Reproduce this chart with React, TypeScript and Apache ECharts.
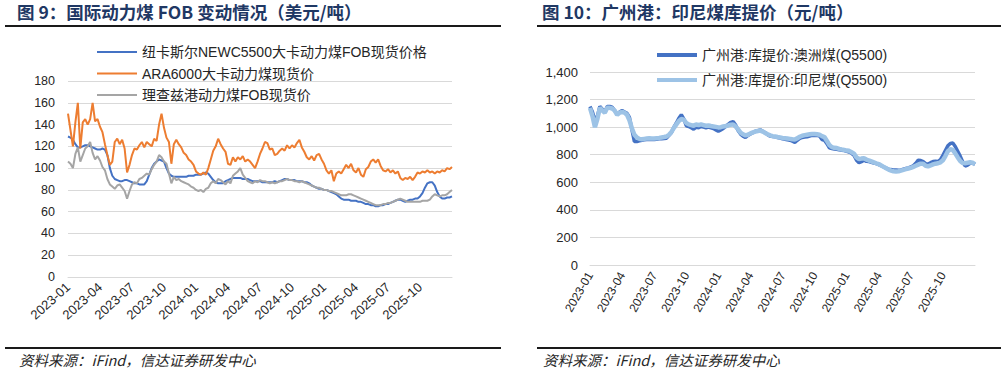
import React, { useEffect, useRef } from "react";
import * as echarts from "echarts";

// weekly observation dates (Fridays), 2023-01-06 … 2026-01-02
const FIRST_DATE = "2023-01-06";
const WEEK_COUNT = 157;
const dates: string[] = (() => {
  const out: string[] = [];
  const d0 = new Date(FIRST_DATE + "T00:00:00Z").getTime();
  for (let i = 0; i < WEEK_COUNT; i++) {
    out.push(new Date(d0 + i * 7 * 86400000).toISOString().slice(0, 10));
  }
  return out;
})();

const quarterMonths = ["01", "04", "07", "10"];
const lastLabelMonth = "2025-10";

// 图9 series (USD/t)
const newcName = "纽卡斯尔NEWC5500大卡动力煤FOB现货价格";
const araName = "ARA6000大卡动力煤现货价";
const rbName = "理查兹港动力煤FOB现货价";

const newc = [
  129, 128, 126, 122, 119, 119, 120, 121, 121, 120,
  119, 118, 117, 117, 118, 117, 112, 100, 93, 90,
  89, 88, 88, 89, 89, 88, 87, 86, 86, 85,
  85, 85, 88, 94, 100, 104, 106, 108, 107, 106,
  100, 95, 93, 92, 92, 92, 92, 92, 92, 93,
  93, 93, 94, 94, 94, 95, 96, 95, 92, 89,
  87, 86, 86, 86, 88, 89, 90, 91, 91, 91,
  91, 90, 90, 90, 89, 88, 88, 88, 88, 87,
  87, 87, 87, 87, 88, 87, 88, 89, 90, 90,
  89, 89, 89, 88, 88, 88, 87, 87, 86, 84,
  83, 82, 81, 81, 80, 80, 79, 78, 77, 76,
  74, 72, 71, 71, 71, 70, 70, 70, 69, 69,
  68, 67, 67, 66, 66, 65, 65, 66, 66, 67,
  67, 68, 69, 70, 71, 71, 70, 69, 70, 71,
  71, 72, 72, 74, 77, 82, 86, 87, 87, 84,
  78, 74, 72, 72, 73, 73, 74,
];

const ara = [
  150, 135, 120, 142, 160, 118, 142, 145, 140, 145,
  160, 143, 145, 138, 133, 122, 112, 103, 106, 124,
  127, 122, 126, 118, 96, 103, 112, 118, 117, 121,
  124, 119, 124, 122, 120, 127, 125, 140, 150, 137,
  128, 124, 104, 122, 126, 122, 119, 114, 112, 108,
  106, 103, 97, 95, 94, 96, 94, 100, 108, 116,
  120, 127, 122, 118, 115, 104, 103, 110, 106, 110,
  108, 111, 106, 108, 106, 103, 100, 106, 113, 118,
  124, 123, 117, 118, 112, 113, 116, 118, 116, 121,
  118, 121, 119, 123, 126, 119, 115, 110, 108, 111,
  107, 112, 113, 108, 104, 98, 95, 98, 88, 95,
  97, 95, 99, 103, 100, 104, 98, 96, 100, 94,
  92, 99, 101, 106, 108, 105, 108, 102, 98, 97,
  99, 96, 98, 95, 97, 91, 89, 91, 90, 92,
  89, 92, 96, 95, 97, 96, 98, 96, 97, 95,
  97, 96, 98, 97, 100, 99, 101,
];

const rb = [
  106, 104, 100, 113, 119, 106, 112, 118, 120, 124,
  114, 108, 111, 107, 101, 98, 90, 85, 83, 81,
  84, 85, 82, 79, 72, 79, 85, 87, 86, 90,
  91, 93, 95, 94, 99, 103, 106, 112, 110, 106,
  104, 95, 86, 92, 89, 90, 88, 87, 86, 85,
  83, 82, 80, 79, 80, 78, 81, 82, 86, 88,
  86, 90, 89, 87, 85, 88, 86, 93, 95, 97,
  100, 94, 91, 88, 87, 86, 88, 87, 89, 88,
  88, 87, 86, 87, 86, 87, 88, 88, 89, 90,
  89, 89, 88, 88, 87, 88, 87, 86, 85, 84,
  83, 82, 82, 81, 80, 80, 79, 79, 78, 77,
  76, 75, 75, 75, 76, 76, 75, 74, 73, 72,
  71, 70, 69, 68, 67, 66, 66, 66, 67, 67,
  68, 68, 69, 70, 71, 72, 71, 70, 69, 69,
  69, 69, 69, 69, 70, 70, 70, 71, 74, 76,
  75, 74, 75, 75, 76, 78, 80,
];

// 图10 series (CNY/t)
const ausName = "广州港:库提价:澳洲煤(Q5500)";
const indoName = "广州港:库提价:印尼煤(Q5500)";

const aus = [
  1150, 1110, 1050, 1080, 1150, 1130, 1110, 1150, 1150, 1145,
  1120, 1095, 1110, 1120, 1110, 1100, 1070, 980, 895, 895,
  900, 905, 908, 910, 912, 910, 910, 912, 915, 915,
  918, 920, 940, 960, 1000, 1030, 1065, 1090, 1060, 1010,
  1005, 995, 985, 1000, 995, 1005, 1000, 995, 1000, 995,
  990, 980, 970, 980, 990, 1005, 1020, 1035, 1040, 1015,
  975, 950, 935, 925, 940, 950, 960, 970, 975, 980,
  970, 960, 945, 935, 932, 930, 925, 920, 915, 912,
  908, 905, 898, 890, 905, 918, 925, 928, 930, 935,
  940, 942, 940, 935, 910, 905, 880, 850, 845, 842,
  840, 835, 832, 830, 825, 820, 810, 795, 760, 742,
  750, 760, 752, 750, 745, 740, 735, 728, 720, 712,
  702, 695, 692, 690, 690, 688, 690, 695, 700, 705,
  712, 720, 738, 760, 758, 750, 735, 732, 742, 750,
  752, 750, 765, 795, 830, 865, 882, 885, 860, 825,
  790, 750, 718, 725, 738, 740, 730,
];

const indo = [
  1140, 1080, 1000, 1060, 1140, 1120, 1105, 1140, 1140, 1135,
  1120, 1090, 1105, 1110, 1105, 1090, 1050, 990, 945, 925,
  915, 912, 915, 918, 920, 918, 918, 920, 922, 925,
  928, 932, 945, 965, 995, 1020, 1045, 1060, 1055, 1030,
  1020, 1015, 1010, 1020, 1015, 1020, 1015, 1010, 1012, 1008,
  1005, 1002, 998, 1000, 1005, 1008, 1012, 1018, 1020, 1005,
  985, 960, 948, 940, 945, 955, 962, 968, 972, 975,
  968, 958, 948, 940, 935, 932, 928, 925, 922, 920,
  918, 915, 912, 910, 920, 930, 938, 942, 945, 948,
  950, 950, 948, 945, 935, 928, 900, 870, 855, 850,
  848, 842, 838, 835, 830, 828, 818, 808, 780, 768,
  772, 775, 765, 758, 752, 745, 738, 732, 722, 712,
  702, 692, 685, 680, 678, 680, 685, 690, 695, 700,
  705, 712, 720, 728, 735, 735, 720, 715, 722, 730,
  735, 738, 745, 760, 790, 825, 840, 835, 810, 780,
  755, 740, 738, 742, 745, 742, 730,
];

const leftTitle = "图 9：国际动力煤 FOB 变动情况（美元/吨）";
const rightTitle = "图 10：广州港：印尼煤库提价（元/吨）";
const sourceText = "资料来源：iFind，信达证券研发中心";

const LATIN = "'Liberation Sans', Arial, 'Noto Sans CJK SC', sans-serif";
const CJK = "'Noto Sans CJK SC', 'Liberation Sans', sans-serif";

function quarterLabel(index: number, value: string) {
  const m = value.slice(5, 7);
  if (!quarterMonths.includes(m)) return false;
  if (value.slice(0, 7) > lastLabelMonth) return false;
  if (index === 0) return true;
  return dates[index - 1].slice(5, 7) !== m;
}

export default function App() {
  const ref = useRef<HTMLDivElement>(null);
  useEffect(() => {
    if (!ref.current) return;
    const chart = echarts.init(ref.current, undefined, { renderer: "svg" });
    const gridLine = { lineStyle: { color: "#d9d9d9", width: 1 } };
    const xAxisBase = (gridIndex: number, rotate: number, fontSize: number) => ({
      type: "category" as const,
      gridIndex,
      data: dates,
      boundaryGap: false,
      axisLine: { show: true, lineStyle: { color: "#d9d9d9" } },
      axisTick: { show: false },
      splitLine: { show: false },
      axisLabel: {
        interval: quarterLabel,
        formatter: (v: string) => v.slice(0, 7),
        rotate,
        fontSize,
        color: "#262626",
        fontFamily: LATIN,
        margin: 8,
      },
    });
    chart.setOption({
      animation: false,
      backgroundColor: "#ffffff",
      grid: [
        { left: 68, top: 81, width: 384, height: 196 },
        { left: 590, top: 72, width: 385, height: 193 },
      ],
      xAxis: [xAxisBase(0, 42, 13), xAxisBase(1, 60, 12)],
      yAxis: [
        {
          type: "value",
          gridIndex: 0,
          min: 0,
          max: 180,
          interval: 20,
          axisLine: { show: false },
          axisTick: { show: false },
          splitLine: gridLine,
          axisLabel: { fontSize: 12.5, color: "#262626", fontFamily: LATIN, margin: 13 },
        },
        {
          type: "value",
          gridIndex: 1,
          min: 0,
          max: 1400,
          interval: 200,
          axisLine: { show: false },
          axisTick: { show: false },
          splitLine: gridLine,
          axisLabel: {
            fontSize: 13,
            color: "#262626",
            fontFamily: LATIN,
            margin: 12,
            formatter: (v: number) => v.toLocaleString("en-US"),
          },
        },
      ],
      legend: [
        {
          orient: "vertical",
          left: 92,
          top: 39,
          icon: "rect",
          itemWidth: 40,
          itemHeight: 2,
          itemGap: 5.5,
          textStyle: { fontSize: 14, color: "#262626", fontFamily: LATIN, lineHeight: 16 },
          data: [newcName, araName, rbName],
        },
        {
          orient: "vertical",
          left: 652,
          top: 42,
          icon: "rect",
          itemWidth: 40,
          itemHeight: 4,
          itemGap: 9,
          textStyle: { fontSize: 14, color: "#262626", fontFamily: LATIN, lineHeight: 16 },
          data: [ausName, indoName],
        },
      ],
      series: [
        {
          name: newcName, type: "line", xAxisIndex: 0, yAxisIndex: 0, data: newc,
          symbol: "none", color: "#4472C4", lineStyle: { width: 2 },
        },
        {
          name: araName, type: "line", xAxisIndex: 0, yAxisIndex: 0, data: ara,
          symbol: "none", color: "#ED7D31", lineStyle: { width: 2 },
        },
        {
          name: rbName, type: "line", xAxisIndex: 0, yAxisIndex: 0, data: rb,
          symbol: "none", color: "#A5A5A5", lineStyle: { width: 2 },
        },
        {
          name: ausName, type: "line", xAxisIndex: 1, yAxisIndex: 1, data: aus,
          symbol: "none", color: "#4472C4", lineStyle: { width: 3.5 },
        },
        {
          name: indoName, type: "line", xAxisIndex: 1, yAxisIndex: 1, data: indo,
          symbol: "none", color: "#9DC3E6", lineStyle: { width: 4.5 },
        },
      ],
      graphic: [
        { type: "text", left: 17, top: 3, style: { text: leftTitle, font: `bold 17.5px ${CJK}`, fill: "#1F3864" } },
        { type: "text", left: 542, top: 3, style: { text: rightTitle, font: `bold 17.5px ${CJK}`, fill: "#1F3864" } },
        { type: "rect", shape: { x: 5, y: 25, width: 496, height: 2 }, style: { fill: "#1a1a1a" } },
        { type: "rect", shape: { x: 537, y: 25, width: 464, height: 2 }, style: { fill: "#1a1a1a" } },
        { type: "rect", shape: { x: 5, y: 347, width: 496, height: 2 }, style: { fill: "#1a1a1a" } },
        { type: "rect", shape: { x: 537, y: 347, width: 464, height: 2 }, style: { fill: "#1a1a1a" } },
        { type: "text", left: 19, top: 352, style: { text: sourceText, font: `italic 14.5px ${CJK}`, fill: "#262626" } },
        { type: "text", left: 543, top: 352, style: { text: sourceText, font: `italic 14.5px ${CJK}`, fill: "#262626" } },
      ],
    });
    return () => chart.dispose();
  }, []);
  return (
    <div
      ref={ref}
      style={{ position: "fixed", left: 0, top: 0, width: 1006, height: 375, background: "#fff" }}
    />
  );
}
